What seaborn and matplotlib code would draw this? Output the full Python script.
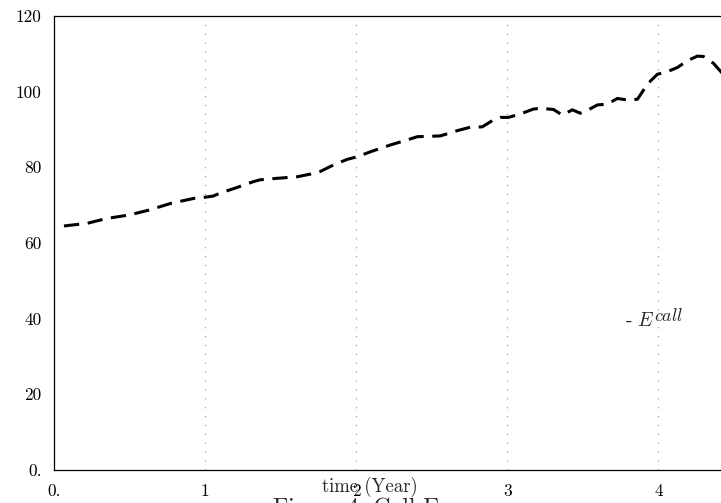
import matplotlib
matplotlib.use("Agg")
import matplotlib.pyplot as plt
import matplotlib.transforms as mtransforms
import seaborn as sns
import pandas as pd

# Call exposure over time
time_years = [0.066, 0.219, 0.351, 0.497, 0.629, 0.775, 0.927, 1.000, 1.053, 1.106,
              1.199, 1.318, 1.364, 1.477, 1.609, 1.695, 1.762, 1.848, 1.940, 2.007,
              2.093, 2.225, 2.358, 2.404, 2.556, 2.669, 2.755, 2.834, 2.907, 2.954,
              3.007, 3.086, 3.172, 3.219, 3.305, 3.364, 3.430, 3.483, 3.536, 3.596,
              3.662, 3.728, 3.795, 3.861, 3.901, 3.947, 3.993, 4.060, 4.126, 4.192,
              4.258, 4.298, 4.364, 4.424, 4.480]
e_call = [64.5, 65.2, 66.5, 67.4, 68.7, 70.5, 71.8, 72.1, 72.4, 73.3,
          74.5, 76.2, 76.7, 77.1, 77.5, 78.2, 78.9, 80.6, 82.1, 82.8,
          84.1, 85.9, 87.5, 88.1, 88.3, 89.7, 90.6, 90.7, 92.5, 93.2,
          93.2, 94.1, 95.4, 95.6, 95.3, 93.8, 95.2, 94.3, 95.2, 96.5,
          96.7, 98.2, 97.8, 98.0, 100.4, 102.8, 104.6, 105.3, 106.4, 108.2,
          109.4, 109.3, 107.5, 104.8, 102.5]

x_ticks = [0, 1, 2, 3, 4]
x_tick_labels = ["0.", "1", "2", "3", "4"]
y_ticks = [0, 20, 40, 60, 80, 100, 120]
y_tick_labels = ["0.", "20", "40", "60", "80", "100", "120"]

df = pd.DataFrame({"time": time_years, "E_call": e_call})

sns.set_theme(style="white")
plt.rcParams["font.family"] = ["cmr10", "DejaVu Serif"]
plt.rcParams["mathtext.fontset"] = "cm"
plt.rcParams["axes.formatter.use_mathtext"] = True

fig = plt.figure(figsize=(7.21, 5.03), dpi=100)
ax = fig.add_axes([54 / 721, 33 / 503, 680 / 721, 454 / 503])

sns.lineplot(data=df, x="time", y="E_call", ax=ax, color="black",
             linewidth=2.2, linestyle=(0, (5, 2.8)), legend=False)

ax.set_xlim(0, 4.5)
ax.set_ylim(0, 120)
ax.set_xticks(x_ticks)
ax.set_xticklabels(x_tick_labels)
ax.set_yticks(y_ticks)
ax.set_yticklabels(y_tick_labels)
ax.tick_params(axis="both", length=0, labelsize=12.5, colors="black")
ax.tick_params(axis="x", pad=10)
ax.tick_params(axis="y", pad=9)

ax.grid(axis="x", color="#888888", linewidth=0.8, linestyle=(0, (1, 7)))
ax.grid(axis="y", visible=False)

for side in ["left", "bottom", "top"]:
    ax.spines[side].set_color("black")
    ax.spines[side].set_linewidth(0.9)
ax.spines["right"].set_visible(False)

ax.set_xlabel("time (Year)", fontsize=13.5)
ax.set_ylabel("")
ax.xaxis.set_label_coords((370 - 54) / 680, -(487 - 470) / 454)
ax.xaxis.label.set_verticalalignment("center")

# series label: "- E" with a raised "call"
ax.text(3.78, 39.5, r"- $E$", fontsize=14, va="center", ha="left")
sup = mtransforms.offset_copy(ax.transData, fig=fig, x=20.5, y=4, units="points")
ax.text(3.78, 39.5, r"$call$", fontsize=13, va="center", ha="left", transform=sup)

fig.text(356 / 721, 1 - 497 / 503, "Figure 4: Call E", fontsize=17,
         ha="center", va="top")

fig.savefig("out.png", dpi=100)
